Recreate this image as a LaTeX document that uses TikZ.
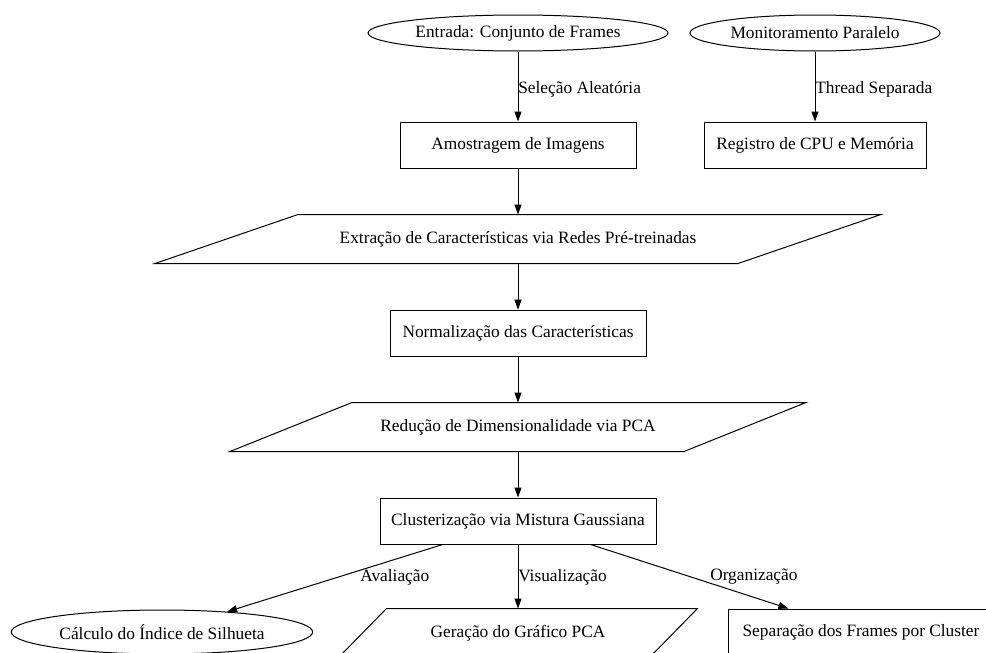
\documentclass[tikz,border=0pt]{standalone}
\usepackage{fontspec}
\setmainfont{Liberation Serif}
\usetikzlibrary{shapes.geometric,arrows.meta,calc}
\newcommand\drawpara[2]{\draw[line width=0.75pt] (#1.south west) -- ($(#1.north west)+(#2,0)$) -- (#1.north east) -- ($(#1.south east)-(#2,0)$) -- cycle;}
\begin{document}
\begin{tikzpicture}[x=0.75pt,y=-0.75pt,
  base/.style={font=\fontsize{13}{15}\selectfont, inner sep=0pt, line width=0.75pt},
  ell/.style={base, draw, ellipse},
  box/.style={base, draw, rectangle},
  para/.style={base, rectangle},
  lbl/.style={font=\fontsize{13}{15}\selectfont, inner sep=0pt, anchor=west},
  arr/.style={-{Triangle[length=7.5pt,width=5.25pt]}, line width=0.75pt}]
\useasboundingbox (0,0) rectangle (986,653);
\fill[white] (0,0) rectangle (986,653);
\clip (0,0) rectangle (986,653);

\node[ell, minimum width=225pt, minimum height=27pt] (in) at (518,33) {Entrada: Conjunto de Frames};
\node[ell, minimum width=187.5pt, minimum height=27pt] (mon) at (815,33) {Monitoramento Paralelo};
\node[box, minimum width=177pt, minimum height=34.5pt] (amo) at (518,145) {Amostragem de Imagens};
\node[box, minimum width=166.5pt, minimum height=34.5pt] (reg) at (815,145) {Registro de CPU e Memória};
\node[para, minimum width=543.75pt, minimum height=36pt] (ext) at (518,239) {Extração de Características via Redes Pré-treinadas};
\drawpara{ext}{143}
\node[box, minimum width=192pt, minimum height=35pt] (nor) at (518,333.5) {Normalização das Características};
\node[para, minimum width=431.25pt, minimum height=36pt] (red) at (518,427) {Redução de Dimensionalidade via PCA};
\drawpara{red}{122}
\node[box, minimum width=207pt, minimum height=34.5pt] (clu) at (518,521) {Clusterização via Mistura Gaussiana};
\node[ell, minimum width=226pt, minimum height=33pt] (sil) at (162,632) {Cálculo do Índice de Silhueta};
\node[para, minimum width=268.5pt, minimum height=36pt] (ger) at (518,633) {Geração do Gráfico PCA};
\drawpara{ger}{48}
\node[box, minimum width=199pt, minimum height=34.5pt] (sep) at (861,632) {Separação dos Frames por Cluster};

\draw[arr] (in) -- (amo);
\node[lbl] (l1) at (518,89) {Seleção Aleatória};
\draw[arr] (mon) -- (reg);
\node[lbl] (l2) at (815,89) {Thread Separada};
\draw[arr] (amo) -- (ext);
\draw[arr] (ext) -- (nor);
\draw[arr] (nor) -- (red);
\draw[arr] (red) -- (clu);
\draw[arr] (clu) -- (sil);
\node[lbl] (l3) at (360,577) {Avaliação};
\draw[arr] (clu) -- (ger);
\node[lbl] (l4) at (518,577) {Visualização};
\draw[arr] (clu) -- (sep);
\node[lbl] (l5) at (710,577) {Organização};
\end{tikzpicture}
\end{document}
